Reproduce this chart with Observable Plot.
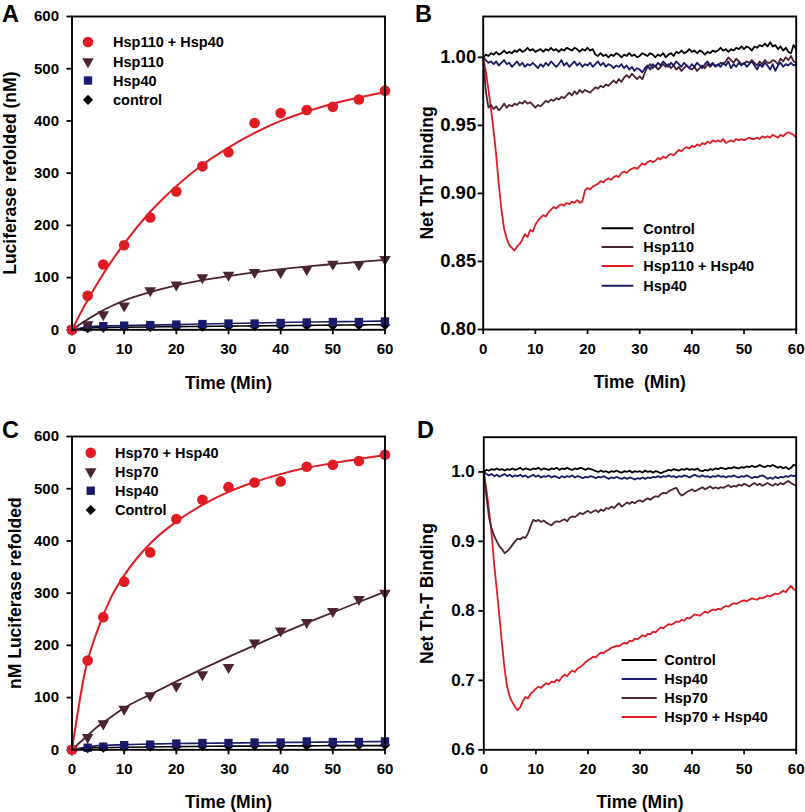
<!DOCTYPE html>
<html><head><meta charset="utf-8">
<script src="https://cdn.jsdelivr.net/npm/d3@7"></script>
<script src="https://cdn.jsdelivr.net/npm/@observablehq/plot@0.6"></script>
<style>
body{margin:0;background:#fff;}
#wrap{position:relative;width:805px;height:812px;overflow:hidden;background:#fff;}
.panel{position:absolute;}
.panel svg{overflow:visible;}
g[aria-label="x-axis label"] text, g[aria-label="y-axis label"] text{font-size:17.5px;}
</style></head><body><div id="wrap"></div>
<script>
// ---------- shared ----------
const xTicks = [0,10,20,30,40,50,60];
const timePoints = [0,3,6,10,15,20,25,30,35,40,45,50,55,60];
const fitTimes = [0,2.5,5,7.5,10,15,20,25,30,35,40,45,50,55,60];
const traceStep = 0.5; // minutes between trace readings

// ---------- Panel A: luciferase refolding (Hsp110) ----------
const aLabels = ["Hsp110 + Hsp40","Hsp110","Hsp40","control"];
const aHsp110Hsp40 = [0,65,125,162,215,265,313,340,396,415,421,427,441,458];
const aHsp110 = [0,10,29,46,75,86,100,105,110,110,116,126,125,135];
const aHsp40 = [0,5,7,8,9,10,11,12,12,13,14,15,15,16];
const aControl = [0,3,4,5,5,6,6,7,7,8,8,8,9,9];
const aFitHsp110Hsp40 = [0,48,91,130,165,226,275,316,349,377,400,418,433,445,455];
const aFitHsp110 = [0,17,32,45,56,72,85,95,103,110,116,121,126,130,134];
const aFitHsp40 = [0,5,7,7.5,8,9,10,11,12,13,14,15,15.5,16,17];
const aFitControl = [0,3,4,4.5,5,5.5,6,6.5,7,7.5,8,8.5,9,9.5,10];
const aYTicks = [0,100,200,300,400,500,600];

// ---------- Panel C: luciferase refolding (Hsp70) ----------
const cLabels = ["Hsp70 + Hsp40","Hsp70","Hsp40","Control"];
const cHsp70Hsp40 = [0,171,254,322,378,442,479,503,512,514,542,546,553,565];
const cHsp70 = [0,24,50,78,104,122,144,158,205,228,244,265,288,300];
const cHsp40 = [0,4,6,9,10,12,13,13,14,14,16,15,15,16];
const cControl = [0,3,4,5,6,6,7,7,8,8,8,9,9,9];
const cFitHsp70Hsp40 = [0,150,232,292,334,395,437,469,494,513,528,540,549,557,564];
const cFitHsp70 = [0,23,45,63,80,106,131,155,178,200,222,243,263,283,303];
const cFitHsp40 = [0,5,8,9,10,11,12,12.5,13,13.5,14,14.5,15,15.5,16];
const cFitControl = [0,3,4,4.5,5,5.5,6,6.5,7,7,7.5,7.5,8,8,8];
const cYTicks = [0,100,200,300,400,500,600];

// ---------- Panel B: ThT binding (Hsp110), readings every 0.5 min ----------
const bLabels = ["Control","Hsp110","Hsp110 + Hsp40","Hsp40"];
const bYTicks = [0.80,0.85,0.90,0.95,1.00];
const bControl = [
1.000,1.002,1.001,1.003,1.002,1.004,1.002,1.003,1.005,1.003,
1.004,1.003,1.005,1.004,1.006,1.004,1.005,1.007,1.005,1.006,
1.004,1.005,1.006,1.004,1.006,1.005,1.007,1.005,1.006,1.004,
1.006,1.005,1.007,1.006,1.005,1.007,1.006,1.004,1.006,1.005,
1.007,1.005,1.006,1.002,1.001,1.003,1.001,1.002,1.000,1.002,
1.001,1.003,1.002,1.000,1.002,1.001,1.003,1.001,1.002,1.000,
1.001,1.003,1.002,1.001,1.003,1.002,1.000,1.002,1.001,1.003,
1.000,1.002,1.003,1.001,1.004,1.003,1.005,1.003,1.004,1.006,
1.004,1.005,1.003,1.005,1.004,1.002,1.004,1.003,1.005,1.004,
1.005,1.007,1.005,1.006,1.004,1.006,1.005,1.007,1.006,1.008,
1.006,1.008,1.007,1.005,1.008,1.007,1.009,1.008,1.010,1.008,
1.011,1.008,1.009,1.006,1.008,1.005,1.007,1.004,1.003,1.009,
1.006];
const bHsp40 = [
1.000,0.998,0.996,0.997,0.995,0.997,0.994,0.996,0.998,0.995,
0.996,0.993,0.995,0.997,0.994,0.996,0.993,0.995,0.994,0.996,
0.994,0.992,0.995,0.993,0.996,0.994,0.997,0.995,0.993,0.995,
0.998,0.994,0.996,0.993,0.995,0.997,0.994,0.996,0.993,0.995,
0.994,0.996,0.993,0.995,0.997,0.994,0.996,0.993,0.995,0.994,
0.992,0.994,0.993,0.995,0.992,0.994,0.991,0.993,0.990,0.992,
0.991,0.989,0.992,0.994,0.991,0.995,0.993,0.996,0.994,0.997,
0.995,0.993,0.996,0.994,0.997,0.995,0.993,0.996,0.994,0.992,
0.995,0.993,0.996,0.994,0.992,0.995,0.997,0.994,0.996,0.993,
0.995,0.993,0.996,0.994,0.997,0.992,0.995,0.993,0.996,0.994,
0.996,0.993,0.995,0.997,0.994,0.991,0.995,0.993,0.996,0.994,
0.991,0.995,0.990,0.994,0.996,0.993,0.995,0.994,0.996,0.994,
0.995];
const bHsp110 = [
1.000,0.975,0.963,0.965,0.962,0.964,0.961,0.963,0.966,0.963,
0.965,0.964,0.966,0.965,0.967,0.966,0.968,0.966,0.967,0.965,
0.963,0.965,0.964,0.966,0.968,0.967,0.969,0.968,0.970,0.969,
0.971,0.970,0.972,0.974,0.972,0.975,0.973,0.976,0.974,0.976,
0.975,0.974,0.976,0.978,0.977,0.979,0.978,0.980,0.979,0.981,
0.983,0.981,0.984,0.982,0.985,0.987,0.985,0.988,0.986,0.984,
0.986,0.984,0.989,0.993,0.995,0.992,0.994,0.991,0.993,0.995,
0.993,0.995,0.992,0.994,0.991,0.993,0.990,0.992,0.994,0.992,
0.991,0.993,0.990,0.992,0.994,0.992,0.995,0.993,0.995,0.994,
0.994,0.996,0.995,0.997,1.000,0.998,0.996,0.999,0.997,0.995,
0.995,0.997,0.996,0.998,0.996,0.994,0.997,0.995,0.998,0.996,
0.996,0.998,0.997,0.995,0.999,0.997,1.000,0.998,1.001,0.997,
0.996];
const bHsp110Hsp40 = [
1.000,0.990,0.976,0.962,0.946,0.928,0.906,0.888,0.874,0.867,
0.862,0.860,0.858,0.861,0.863,0.866,0.870,0.868,0.873,0.872,
0.877,0.880,0.882,0.884,0.883,0.886,0.888,0.890,0.889,0.891,
0.892,0.891,0.893,0.892,0.894,0.893,0.895,0.893,0.894,0.902,
0.904,0.903,0.905,0.906,0.907,0.909,0.908,0.910,0.911,0.910,
0.912,0.913,0.912,0.915,0.916,0.915,0.917,0.918,0.919,0.918,
0.920,0.922,0.921,0.923,0.924,0.923,0.924,0.926,0.925,0.927,
0.926,0.928,0.929,0.928,0.930,0.932,0.931,0.933,0.934,0.933,
0.935,0.934,0.936,0.935,0.937,0.936,0.938,0.937,0.939,0.938,
0.939,0.938,0.940,0.937,0.938,0.939,0.938,0.940,0.939,0.940,
0.939,0.940,0.941,0.940,0.940,0.941,0.940,0.942,0.941,0.942,
0.941,0.943,0.942,0.941,0.943,0.942,0.944,0.945,0.944,0.943,
0.941];

// ---------- Panel D: ThT binding (Hsp70), readings every 0.5 min ----------
const dLabels = ["Control","Hsp40","Hsp70","Hsp70 + Hsp40"];
const dYTicks = [0.6,0.7,0.8,0.9,1.0];
const dControl = [
1.000,1.003,1.002,1.004,1.003,1.005,1.003,1.004,1.002,1.004,
1.003,1.005,1.003,1.004,1.006,1.003,1.005,1.004,1.003,1.005,
1.004,1.006,1.003,1.005,1.004,1.003,1.005,1.004,1.006,1.003,
1.005,1.004,1.006,1.004,1.003,1.005,1.004,1.006,1.005,1.003,
1.005,1.004,1.003,1.001,1.000,1.002,1.000,1.001,0.999,1.001,
1.000,1.002,1.000,0.999,1.001,1.000,1.002,0.999,1.001,1.000,
1.001,0.999,1.002,1.000,1.001,0.999,1.001,1.000,0.998,1.000,
1.001,1.003,1.002,1.004,1.003,1.002,1.004,1.003,1.005,1.003,
1.004,1.003,1.005,1.002,1.001,1.003,1.002,1.004,1.003,1.005,
1.004,1.006,1.005,1.004,1.006,1.005,1.007,1.006,1.005,1.007,
1.006,1.008,1.007,1.009,1.007,1.008,1.010,1.008,1.007,1.009,
1.008,1.010,1.008,1.006,1.008,1.005,1.007,1.004,1.006,1.010,
1.009];
const dHsp40 = [
1.000,0.997,0.995,0.997,0.994,0.996,0.993,0.995,0.997,0.994,
0.996,0.993,0.995,0.994,0.996,0.993,0.995,0.992,0.994,0.996,
0.993,0.995,0.992,0.994,0.993,0.995,0.992,0.994,0.993,0.991,
0.994,0.992,0.994,0.993,0.995,0.992,0.994,0.993,0.991,0.993,
0.992,0.994,0.993,0.991,0.993,0.992,0.994,0.992,0.990,0.992,
0.991,0.993,0.991,0.990,0.992,0.990,0.992,0.991,0.989,0.991,
0.990,0.992,0.990,0.992,0.991,0.993,0.992,0.994,0.992,0.994,
0.993,0.995,0.993,0.994,0.992,0.994,0.993,0.995,0.994,0.992,
0.994,0.996,0.994,0.993,0.995,0.993,0.994,0.992,0.994,0.993,
0.995,0.993,0.994,0.992,0.994,0.993,0.995,0.993,0.992,0.994,
0.993,0.995,0.993,0.991,0.993,0.992,0.994,0.995,0.993,0.990,
0.992,0.990,0.993,0.991,0.993,0.992,0.994,0.993,0.995,0.994,
0.995];
const dHsp70 = [
1.000,0.965,0.935,0.918,0.908,0.900,0.893,0.889,0.883,0.886,
0.890,0.895,0.900,0.904,0.903,0.906,0.905,0.912,0.922,0.931,
0.929,0.931,0.928,0.930,0.927,0.925,0.923,0.927,0.929,0.928,
0.930,0.932,0.929,0.934,0.936,0.935,0.938,0.941,0.939,0.942,
0.944,0.941,0.943,0.945,0.942,0.946,0.944,0.948,0.947,0.950,
0.948,0.952,0.955,0.950,0.953,0.956,0.954,0.957,0.955,0.958,
0.959,0.957,0.960,0.962,0.960,0.963,0.965,0.964,0.968,0.970,
0.969,0.972,0.974,0.976,0.977,0.970,0.966,0.968,0.971,0.973,
0.975,0.972,0.974,0.976,0.978,0.975,0.977,0.979,0.976,0.978,
0.976,0.978,0.977,0.979,0.981,0.978,0.980,0.979,0.982,0.980,
0.983,0.981,0.979,0.982,0.984,0.981,0.983,0.980,0.982,0.984,
0.982,0.980,0.983,0.981,0.984,0.982,0.985,0.987,0.984,0.982,
0.980];
const dHsp70Hsp40 = [
1.000,0.975,0.945,0.912,0.866,0.830,0.792,0.752,0.716,0.690,
0.676,0.668,0.662,0.657,0.661,0.670,0.676,0.674,0.681,0.684,
0.688,0.691,0.689,0.693,0.696,0.694,0.698,0.697,0.701,0.699,
0.705,0.708,0.706,0.711,0.714,0.712,0.717,0.719,0.722,0.726,
0.729,0.731,0.734,0.733,0.737,0.740,0.739,0.742,0.744,0.747,
0.748,0.750,0.749,0.752,0.754,0.753,0.757,0.756,0.760,0.759,
0.762,0.765,0.763,0.767,0.766,0.770,0.769,0.773,0.776,0.775,
0.778,0.781,0.780,0.782,0.785,0.784,0.787,0.786,0.790,0.789,
0.792,0.795,0.794,0.793,0.796,0.799,0.797,0.800,0.802,0.801,
0.803,0.802,0.805,0.807,0.806,0.809,0.811,0.810,0.812,0.814,
0.815,0.814,0.816,0.818,0.817,0.816,0.819,0.818,0.820,0.822,
0.821,0.823,0.825,0.824,0.826,0.829,0.827,0.832,0.836,0.831,
0.830];

// ---------- styling ----------
const FONT = '"Liberation Sans", Arial, Helvetica, sans-serif';
const RED = "#e01b22", MAROON = "#4a2434", NAVY = "#1a1a6a", BLACK = "#000";

const wrap = d3.select("#wrap");

function addPanel(left, top, plot) {
  const d = wrap.append("div").attr("class","panel").style("left",left+"px").style("top",top+"px");
  d.node().appendChild(plot);
}

function baseStyle(){
  return {fontFamily: FONT, fontWeight: "bold", fontSize: "15px", color: "black", background: "transparent", overflow: "visible"};
}

function scatterPlot(cfg) {
  const marks = [];
  for (const s of cfg.series) {
    marks.push(Plot.line(s.fit.map((v,i)=>({t: fitTimes[i], v})), {x:"t", y:"v", stroke: s.color, strokeWidth: s.lw, curve: "monotone-x"}));
  }
  for (const s of cfg.series) {
    marks.push(Plot.dot(s.values.map((v,i)=>({t: timePoints[i], v})), {x:"t", y:"v", symbol: s.symbol, r: s.r, fill: s.color, stroke: "none", rotate: s.rotate || 0}));
  }
  return Plot.plot({
    width: 400, height: 400,
    marginLeft: cfg.mL, marginRight: cfg.mR, marginTop: cfg.mT, marginBottom: cfg.mB,
    style: baseStyle(),
    x: {domain: [0,60]},
    y: {domain: [0,600]},
    marks: [
      Plot.axisX({ticks: xTicks, tickSize: 5, tickPadding: 9, strokeWidth: 1.8, fontSize: 15, label: "Time (Min)", labelAnchor: "center", labelArrow: "none", labelOffset: cfg.xLabelOffset}),
      Plot.axisY({ticks: cfg.yTicks, tickSize: 5, tickPadding: 8, strokeWidth: 1.8, fontSize: 15, label: cfg.yLabel, labelAnchor: "center", labelArrow: "none", labelOffset: cfg.yLabelOffset}),
      ...marks,
      Plot.frame({stroke: "black", strokeWidth: 1.9})
    ]
  });
}

function tracePlot(cfg) {
  const marks = cfg.series.map(s => Plot.line(s.values.map((v,i)=>({t: i*traceStep, v})), {x:"t", y:"v", stroke: s.color, strokeWidth: 1.8}));
  return Plot.plot({
    width: 400, height: 400,
    marginLeft: cfg.mL, marginRight: cfg.mR, marginTop: cfg.mT, marginBottom: cfg.mB,
    style: baseStyle(),
    x: {domain: [0,60]},
    y: {domain: cfg.yDomain},
    marks: [
      Plot.axisX({ticks: xTicks, tickSize: 5, tickPadding: 9, strokeWidth: 1.8, fontSize: 15, label: cfg.xLabel, labelAnchor: "center", labelArrow: "none", labelOffset: cfg.xLabelOffset}),
      Plot.axisY({ticks: cfg.yTicks, tickFormat: d3.format(cfg.fmt), tickSize: 5, tickPadding: cfg.yPad, strokeWidth: 1.8, fontSize: cfg.yFont, label: cfg.yLabel, labelAnchor: "center", labelArrow: "none", labelOffset: cfg.yLabelOffset}),
      ...marks,
      Plot.frame({stroke: "black", strokeWidth: 1.9})
    ]
  });
}

// Panel A
addPanel(0, 0, scatterPlot({
  mL: 71.5, mR: 15.5, mT: 16, mB: 70.7,
  yTicks: aYTicks, yLabel: "Luciferase refolded (nM)", yLabelOffset: 68, xLabelOffset: 59,
  series: [
    {values: aControl, fit: aFitControl, color: BLACK, symbol: "diamond2", r: 4.6, lw: 1.6},
    {values: aHsp40, fit: aFitHsp40, color: NAVY, symbol: "square", r: 4.7, lw: 1.6},
    {values: aHsp110, fit: aFitHsp110, color: MAROON, symbol: "triangle", r: 4.3, rotate: 180, lw: 1.8},
    {values: aHsp110Hsp40, fit: aFitHsp110Hsp40, color: RED, symbol: "circle", r: 5.3, lw: 2}
  ]
}));

// Panel C
addPanel(0, 420, scatterPlot({
  mL: 71.5, mR: 15.5, mT: 16, mB: 70.7,
  yTicks: cYTicks, yLabel: "nM Luciferase refolded", yLabelOffset: 63, xLabelOffset: 58,
  series: [
    {values: cControl, fit: cFitControl, color: BLACK, symbol: "diamond2", r: 4.6, lw: 1.6},
    {values: cHsp40, fit: cFitHsp40, color: NAVY, symbol: "square", r: 4.7, lw: 1.6},
    {values: cHsp70, fit: cFitHsp70, color: MAROON, symbol: "triangle", r: 4.3, rotate: 180, lw: 1.8},
    {values: cHsp70Hsp40, fit: cFitHsp70Hsp40, color: RED, symbol: "circle", r: 5.3, lw: 2}
  ]
}));

// Panel B
addPanel(400, 0, tracePlot({
  mL: 82.7, mR: 4.3, mT: 16, mB: 71,
  yDomain: [0.80, 1.03], yTicks: bYTicks, fmt: ".2f", yFont: 18.5, yPad: 2,
  yLabel: "Net ThT binding", yLabelOffset: 62.7, xLabel: "Time \u00a0(Min)", xLabelOffset: 58,
  series: [
    {values: bHsp110Hsp40, color: RED},
    {values: bHsp110, color: MAROON},
    {values: bHsp40, color: NAVY},
    {values: bControl, color: BLACK}
  ]
}));

// Panel D
addPanel(400, 420, tracePlot({
  mL: 83.3, mR: 4.3, mT: 16.7, mB: 70.7,
  yDomain: [0.6, 1.05], yTicks: dYTicks, fmt: ".1f", yFont: 17, yPad: 4,
  yLabel: "Net Th-T Binding", yLabelOffset: 63.3, xLabel: "Time (Min)", xLabelOffset: 58,
  series: [
    {values: dHsp70Hsp40, color: RED},
    {values: dHsp70, color: MAROON},
    {values: dHsp40, color: NAVY},
    {values: dControl, color: BLACK}
  ]
}));

// ---------- overlay: panel letters and legends ----------
const ov = wrap.append("svg").attr("width", 805).attr("height", 812)
  .style("position","absolute").style("left","0px").style("top","0px")
  .style("font-family", FONT).style("font-weight","bold");

const letters = [["A",2,21.7],["B",415,21.7],["C",2,438.3],["D",417,438.3]];
for (const [t,x,y] of letters) ov.append("text").attr("x",x).attr("y",y).attr("font-size",23.5).text(t);

const symGen = (type, r) => d3.symbol().type(type).size(Math.PI*r*r)();
function symbolLegend(labels, styles, sx, tx, rows) {
  labels.forEach((lab, i) => {
    const s = styles[i];
    ov.append("path").attr("d", symGen(s.type, s.r))
      .attr("transform", `translate(${sx},${rows[i]}) rotate(${s.rot||0})`).attr("fill", s.color);
    ov.append("text").attr("x", tx).attr("y", rows[i] + 5.2).attr("font-size", 14.5).text(lab);
  });
}
const symStyles = [
  {type: d3.symbolCircle, r: 5.3, color: RED},
  {type: d3.symbolTriangle, r: 4.3, color: MAROON, rot: 180},
  {type: d3.symbolSquare, r: 4.7, color: NAVY},
  {type: d3.symbolDiamond2, r: 4.6, color: BLACK}
];
symbolLegend(aLabels, symStyles, 88, 113, [42, 61.5, 80.5, 99.8]);
symbolLegend(cLabels, symStyles, 90.7, 115, [452.7, 471.7, 490.7, 510]);

function lineLegend(labels, colors, x1, x2, tx, rows) {
  labels.forEach((lab, i) => {
    ov.append("line").attr("x1", x1).attr("x2", x2).attr("y1", rows[i]).attr("y2", rows[i]).attr("stroke", colors[i]).attr("stroke-width", 2);
    ov.append("text").attr("x", tx).attr("y", rows[i] + 5.2).attr("font-size", 14.5).text(lab);
  });
}
lineLegend(bLabels, [BLACK, MAROON, RED, NAVY], 601.7, 633.3, 643.3, [228.3, 247, 266, 285.7]);
lineLegend(dLabels, [BLACK, NAVY, MAROON, RED], 621.7, 656.7, 664.3, [660, 679, 698, 717]);
</script></body></html>
